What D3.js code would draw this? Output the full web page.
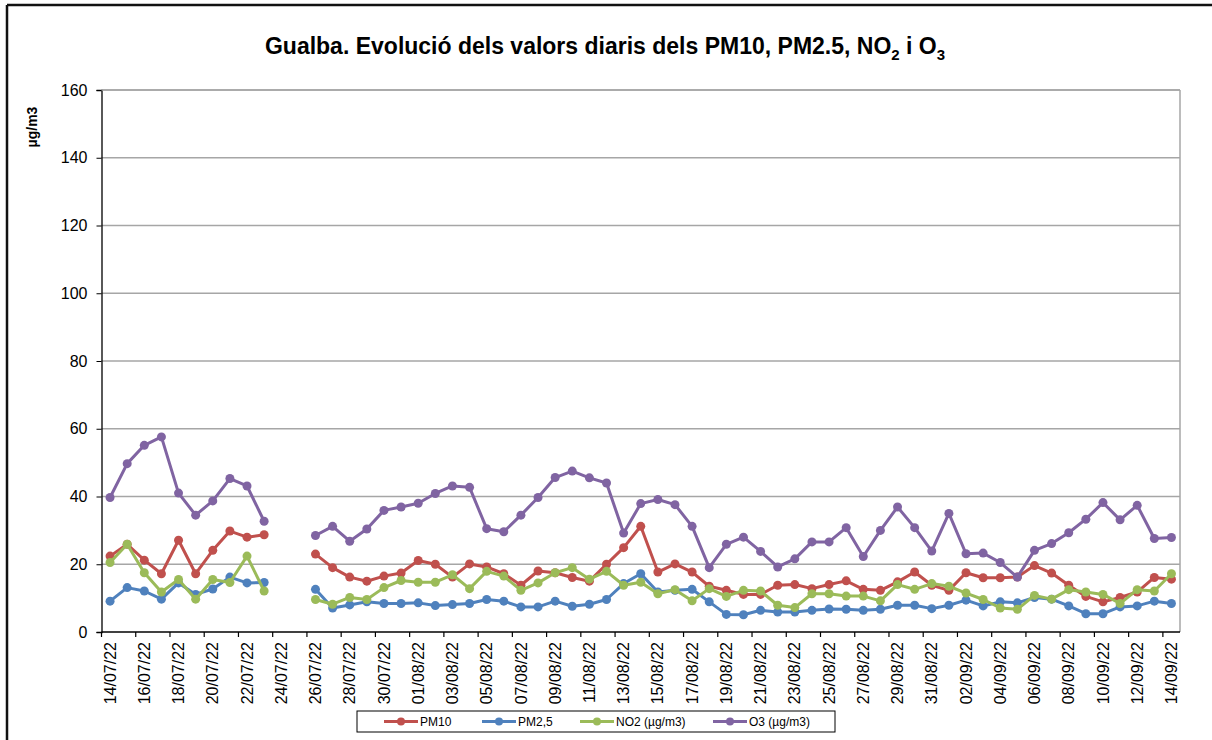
<!DOCTYPE html>
<html>
<head>
<meta charset="utf-8">
<script src="https://cdn.jsdelivr.net/npm/d3@7"></script>
<style>
  body { margin: 0; background: #fff; }
  svg { font-family: "Liberation Sans", Arial, sans-serif; display: block; }
</style>
</head>
<body>
<svg id="chart" width="1212" height="740"></svg>
<script>
// categories: one per day, 14/07/22 -> 14/09/22
var days = ["14/07/22","15/07/22","16/07/22","17/07/22","18/07/22","19/07/22","20/07/22","21/07/22","22/07/22","23/07/22",
  "24/07/22","25/07/22","26/07/22","27/07/22","28/07/22","29/07/22","30/07/22","31/07/22","01/08/22","02/08/22",
  "03/08/22","04/08/22","05/08/22","06/08/22","07/08/22","08/08/22","09/08/22","10/08/22","11/08/22","12/08/22",
  "13/08/22","14/08/22","15/08/22","16/08/22","17/08/22","18/08/22","19/08/22","20/08/22","21/08/22","22/08/22",
  "23/08/22","24/08/22","25/08/22","26/08/22","27/08/22","28/08/22","29/08/22","30/08/22","31/08/22","01/09/22",
  "02/09/22","03/09/22","04/09/22","05/09/22","06/09/22","07/09/22","08/09/22","09/09/22","10/09/22","11/09/22",
  "12/09/22","13/09/22","14/09/22"];

var pm10 = [22.4,25.9,21.2,17.2,27.1,17.2,24.1,29.8,28.0,28.7,null,null,23.0,19.0,16.2,15.0,16.5,17.4,21.1,20.0,
  16.2,20.1,19.2,17.2,13.8,18.0,17.5,16.1,15.0,20.0,24.9,31.2,17.7,20.1,17.7,13.5,12.3,11.1,11.1,13.8,
  14.0,12.8,14.0,15.1,12.6,12.3,14.8,17.7,13.8,12.3,17.5,16.0,16.0,16.2,19.6,17.4,13.8,10.5,8.9,10.2,
  11.8,16.1,15.6];

var pm25 = [9.1,13.1,12.1,9.7,14.5,11.1,12.7,16.2,14.5,14.6,null,null,12.6,7.1,8.0,8.9,8.4,8.4,8.6,7.8,
  8.1,8.4,9.6,9.1,7.4,7.4,9.1,7.6,8.2,9.6,14.3,17.2,11.8,12.3,12.6,8.9,5.2,5.1,6.4,5.9,
  5.9,6.4,6.8,6.7,6.4,6.7,7.9,7.9,6.9,7.9,9.4,7.7,8.9,8.6,10.2,9.7,7.7,5.4,5.4,7.4,
  7.7,9.1,8.4];

var no2 = [20.5,25.9,17.5,11.8,15.5,9.7,15.5,14.6,22.4,12.1,null,null,9.6,8.2,10.2,9.6,13.1,15.2,14.7,14.7,
  16.9,12.8,17.9,16.5,12.3,14.5,17.5,19.0,15.6,17.9,13.8,14.7,11.3,12.5,9.2,12.8,10.5,12.3,12.1,7.9,
  7.2,11.3,11.3,10.6,10.6,9.2,14.0,12.6,14.3,13.5,11.5,9.6,7.1,6.7,10.8,9.7,12.5,11.8,11.1,8.4,
  12.5,12.1,17.2];

var o3 = [39.7,49.7,55.1,57.6,41.0,34.5,38.7,45.3,43.1,32.7,null,null,28.5,31.2,26.8,30.4,35.9,36.9,38.0,40.9,
  43.1,42.7,30.5,29.6,34.5,39.7,45.6,47.5,45.5,44.0,29.2,37.9,39.1,37.6,31.2,19.0,25.9,28.0,23.8,19.2,
  21.6,26.6,26.6,30.8,22.3,30.0,36.9,30.8,23.9,35.0,23.1,23.3,20.5,16.2,24.1,26.1,29.3,33.3,38.2,33.1,
  37.4,27.6,27.9];

var seriesNames = ["PM10", "PM2,5", "NO2 (µg/m3)", "O3 (µg/m3)"];
var seriesColors = ["#c0504d", "#4f81bd", "#9bbb59", "#8064a2"];
var yTicks = [0, 20, 40, 60, 80, 100, 120, 140, 160];

var series = [pm10, pm25, no2, o3].map(function (vals, i) {
  return { name: seriesNames[i], color: seriesColors[i], values: vals };
});

var svg = d3.select('#chart');
var plotL = 101.5, plotR = 1180, plotT = 90, plotB = 632;

// outer frame (top and left edges only visible)
svg.append('line').attr('x1', 7).attr('x2', 1212).attr('y1', 5).attr('y2', 5)
  .attr('stroke', '#111').attr('stroke-width', 2.5);
svg.append('line').attr('x1', 7).attr('x2', 7).attr('y1', 5).attr('y2', 740)
  .attr('stroke', '#111').attr('stroke-width', 2.5);

var x = d3.scaleBand().domain(days).range([plotL, plotR]).padding(0);
var y = d3.scaleLinear().domain([0, 160]).range([plotB, plotT]);
var cx = function (i) { return x(days[i]) + x.bandwidth() / 2; };

// gridlines
svg.append('g').selectAll('line').data(yTicks.filter(function (d) { return d > 0; })).enter()
  .append('line')
  .attr('x1', plotL).attr('x2', plotR)
  .attr('y1', function (d) { return y(d); }).attr('y2', function (d) { return y(d); })
  .attr('stroke', '#a6a6a6').attr('stroke-width', 1.5);

// plot border right
svg.append('line').attr('x1', plotR).attr('x2', plotR).attr('y1', plotT).attr('y2', plotB)
  .attr('stroke', '#a6a6a6').attr('stroke-width', 1.5);

// y axis
var yAxis = svg.append('g').attr('transform', 'translate(' + plotL + ',0)')
  .call(d3.axisLeft(y).tickValues(yTicks).tickSize(5).tickPadding(9));
yAxis.select('.domain').attr('stroke', '#000').attr('stroke-width', 1.3);
yAxis.selectAll('.tick line').attr('stroke', '#000');
yAxis.selectAll('text').attr('font-size', '16px').attr('fill', '#000')
  .attr('font-family', '"Liberation Sans", Arial, sans-serif');

// x axis: labels at every other day, ticks on category boundaries
var labelDays = days.filter(function (d, i) { return i % 2 === 0; });
var xAxis = svg.append('g').attr('transform', 'translate(0,' + plotB + ')')
  .call(d3.axisBottom(x).tickValues(labelDays).tickSize(0).tickPadding(0));
xAxis.select('.domain').remove();
xAxis.selectAll('text')
  .attr('font-size', '16px').attr('fill', '#000')
  .attr('font-family', '"Liberation Sans", Arial, sans-serif')
  .attr('transform', 'rotate(-90)')
  .attr('text-anchor', 'end')
  .attr('x', -10).attr('y', 0).attr('dy', '0.35em');
svg.append('g').selectAll('line').data(labelDays).enter().append('line')
  .attr('x1', function (d) { return x(d); }).attr('x2', function (d) { return x(d); })
  .attr('y1', plotB).attr('y2', plotB + 5)
  .attr('stroke', '#000').attr('stroke-width', 1.2);
svg.append('line').attr('x1', plotL).attr('x2', plotR).attr('y1', plotB).attr('y2', plotB)
  .attr('stroke', '#000').attr('stroke-width', 1.3);

// top border of plot area
svg.append('line').attr('x1', plotL).attr('x2', plotR).attr('y1', plotT).attr('y2', plotT)
  .attr('stroke', '#a6a6a6').attr('stroke-width', 1.5);

// series
var line = d3.line()
  .defined(function (d) { return d != null; })
  .x(function (d, i) { return cx(i); })
  .y(function (d) { return y(d); });

series.forEach(function (s) {
  var g = svg.append('g');
  g.append('path').datum(s.values)
    .attr('d', line)
    .attr('fill', 'none').attr('stroke', s.color).attr('stroke-width', 3)
    .attr('stroke-linejoin', 'round');
  g.selectAll('circle').data(s.values.map(function (v, i) { return { v: v, i: i }; })
      .filter(function (d) { return d.v != null; }))
    .enter().append('circle')
    .attr('cx', function (d) { return cx(d.i); })
    .attr('cy', function (d) { return y(d.v); })
    .attr('r', 4.5)
    .attr('fill', s.color);
});

// title
var title = svg.append('text').attr('x', 605).attr('y', 54)
  .attr('text-anchor', 'middle').attr('font-size', '23px').attr('font-weight', 'bold').attr('fill', '#000');
title.append('tspan').text('Gualba. Evolució dels valors diaris dels PM10, PM2.5, NO');
title.append('tspan').attr('font-size', '15px').attr('dy', 6).text('2');
title.append('tspan').attr('dy', -6).text(' i O');
title.append('tspan').attr('font-size', '15px').attr('dy', 6).text('3');

// y axis label
svg.append('text').attr('transform', 'translate(37,127) rotate(-90)')
  .attr('text-anchor', 'middle').attr('font-size', '14px').attr('font-weight', 'bold')
  .attr('fill', '#000').text('µg/m3');

// legend
var legend = svg.append('g');
legend.append('rect').attr('x', 357).attr('y', 711).attr('width', 478).attr('height', 21)
  .attr('fill', '#fff').attr('stroke', '#000').attr('stroke-width', 1);
var legendX = [384, 482, 580, 713];
series.forEach(function (s, i) {
  var lg = legend.append('g').attr('transform', 'translate(' + legendX[i] + ',721.5)');
  lg.append('line').attr('x1', 0).attr('x2', 34).attr('stroke', s.color).attr('stroke-width', 3);
  lg.append('circle').attr('cx', 17).attr('r', 4).attr('fill', s.color);
  lg.append('text').attr('x', 36).attr('dy', '0.35em').attr('font-size', '12px')
    .attr('fill', '#000').text(s.name);
});
</script>
</body>
</html>
